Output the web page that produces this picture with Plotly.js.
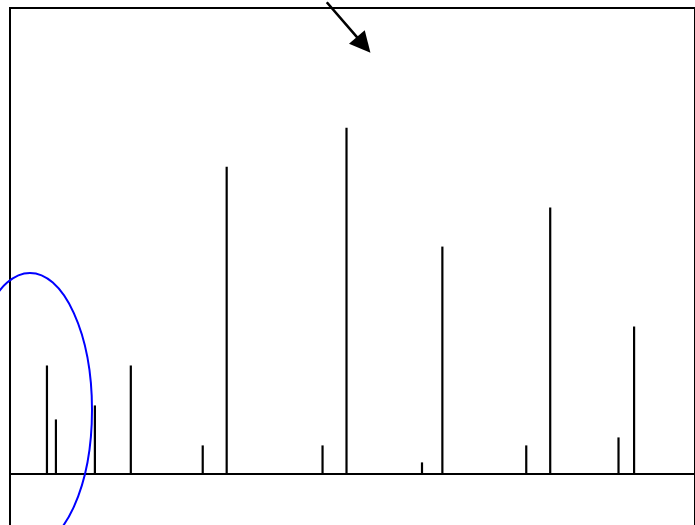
<!DOCTYPE html>
<html>
<head>
<meta charset="utf-8">
<script src="https://cdn.plot.ly/plotly-3.0.1.min.js"></script>
<style>
html, body { margin:0; padding:0; overflow:hidden; background:#fff; }
#chart { width:695px; height:560px; }
</style>
</head>
<body>
<div id="chart"></div>
<script>
// Stem positions and heights
var stemX = [3.0, 3.75, 7.0, 10.0, 16.0, 18.0, 26.0, 28.0, 34.3, 36.0, 43.0, 45.0, 50.7, 52.0];
var stemY = [10.9, 5.5, 6.9, 10.9, 2.9, 30.8, 2.9, 34.7, 1.2, 22.8, 2.9, 26.7, 3.7, 14.8];

var lx = [], ly = [];
for (var i = 0; i < stemX.length; i++) {
  lx.push(stemX[i], stemX[i], null);
  ly.push(0, stemY[i], null);
}

var trace = {
  x: lx, y: ly, type: 'scatter', mode: 'lines',
  line: {color: '#000000', width: 2.2},
  hoverinfo: 'skip', showlegend: false
};

var layout = {
  width: 695, height: 560,
  margin: {l: 11, r: 1, t: 9, b: 0, pad: 0},
  paper_bgcolor: '#ffffff', plot_bgcolor: '#ffffff',
  showlegend: false,
  xaxis: {
    range: [0, 57], showgrid: false, zeroline: false, showticklabels: false, ticks: '',
    showline: true, mirror: true, linecolor: '#000000', linewidth: 2
  },
  yaxis: {
    range: [-8.57, 46.58], showgrid: false, showticklabels: false, ticks: '',
    zeroline: true, zerolinecolor: '#000000', zerolinewidth: 2,
    showline: true, mirror: true, linecolor: '#000000', linewidth: 2
  },
  shapes: [{
    type: 'circle', xref: 'paper', yref: 'paper',
    x0: -0.063, x1: 0.1186, y0: 0.0236, y1: 0.5209,
    line: {color: '#0000ff', width: 2}, fillcolor: 'rgba(0,0,0,0)'
  }],
  annotations: [{
    x: 30, y: 42.2, xref: 'x', yref: 'y', text: '',
    showarrow: true, arrowhead: 2, arrowsize: 1.6, arrowwidth: 2.6,
    arrowcolor: '#000000', ax: -45, ay: -52, standoff: 0
  }]
};

Plotly.newPlot('chart', [trace], layout, {staticPlot: true, displayModeBar: false});
</script>
</body>
</html>
